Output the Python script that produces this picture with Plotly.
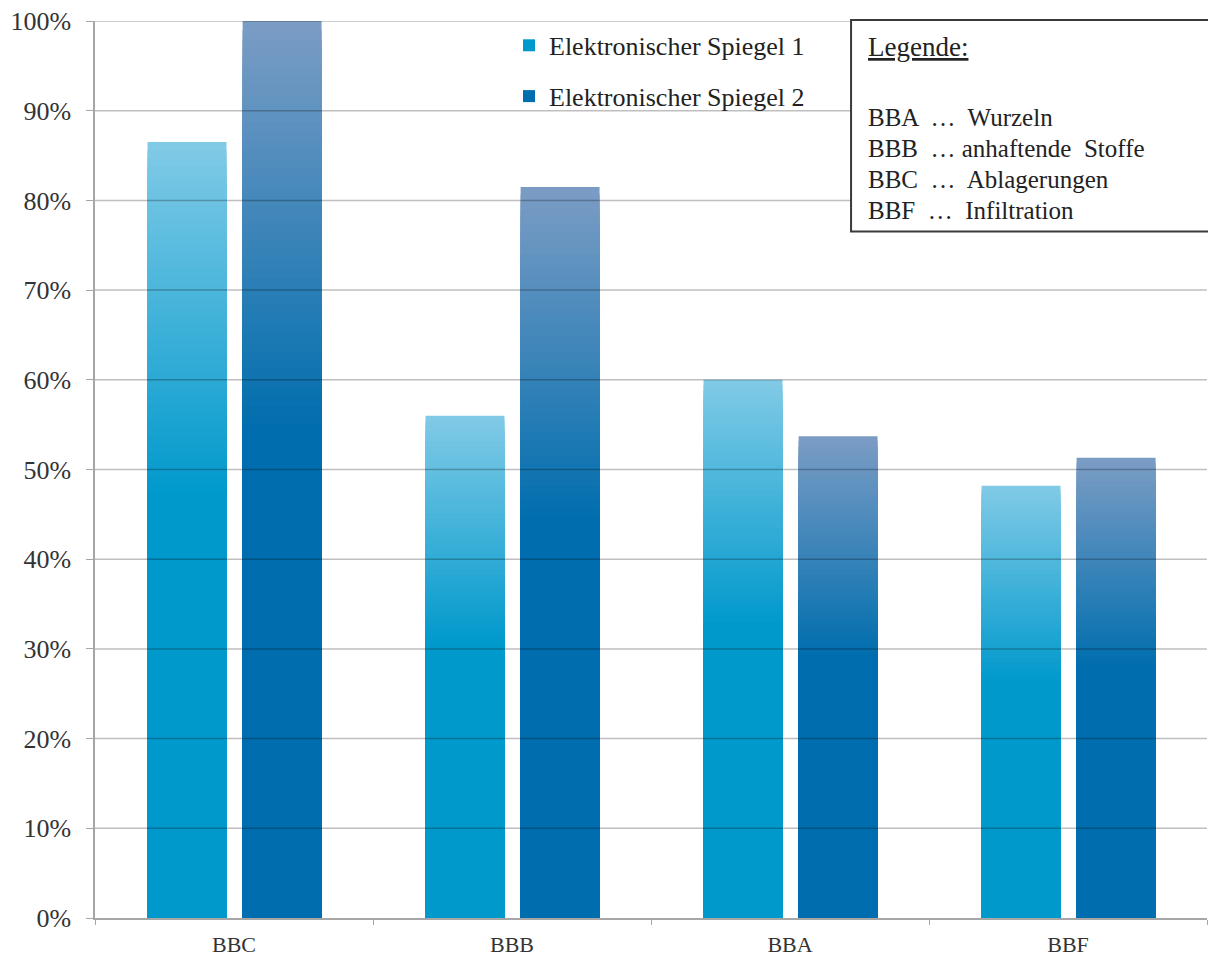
import plotly.graph_objects as go

categories = ["BBC", "BBB", "BBA", "BBF"]
spiegel1 = [86.5, 56.0, 60.0, 48.2]
spiegel2 = [100.0, 81.5, 53.7, 51.3]
series_names = ["Elektronischer Spiegel 1", "Elektronischer Spiegel 2"]
y_ticks = [0, 10, 20, 30, 40, 50, 60, 70, 80, 90, 100]
y_tick_labels = ["0%", "10%", "20%", "30%", "40%", "50%", "60%", "70%", "80%", "90%", "100%"]
legend_lines = ["BBA  \u2026  Wurzeln", "BBB  \u2026 anhaftende  Stoffe",
                "BBC  \u2026  Ablagerungen", "BBF  \u2026  Infiltration"]

# gradient colours (top -> bottom)
top_cols = [(128, 202, 230), (122, 156, 196)]
bot_cols = [(0, 153, 204), (0, 110, 174)]
offsets = [-0.311, 0.031]
bar_w = 0.284
N = 45
fmin = 0.55

fig = go.Figure()
for s, vals in enumerate([spiegel1, spiegel2]):
    for k in range(N):
        t = k / (N - 1)
        f = 1 - t * (1 - fmin)
        c = tuple(round(top_cols[s][i] + (bot_cols[s][i] - top_cols[s][i]) * t) for i in range(3))
        last = (k == N - 1)
        fig.add_trace(go.Bar(
            x=categories,
            y=[v * f for v in vals] if not last else [v * fmin for v in vals],
            offset=offsets[s], width=bar_w,
            marker=dict(color="rgb(%d,%d,%d)" % c, line=dict(width=0)),
            name=series_names[s],
            showlegend=last,
            legendgroup="g%d" % s,
            hoverinfo="skip",
        ))

shapes = []
for v in y_ticks[1:]:
    shapes.append(dict(type="line", xref="paper", yref="y", x0=0, x1=1, y0=v, y1=v,
                       line=dict(color="rgba(0,0,0,0.25)", width=1.5), layer="above"))
# legend box
shapes.append(dict(type="rect", xref="paper", yref="paper",
                   x0=0.6799, x1=1.01, y0=0.7653, y1=1.0011,
                   line=dict(color="#3a3a3a", width=2), fillcolor="white", layer="above"))

annotations = [dict(text="<u>Legende:</u>", xref="paper", yref="paper", x=0.6934, y=0.971,
                    xanchor="left", yanchor="middle", showarrow=False,
                    font=dict(family="Liberation Serif", size=27, color="#222"))]
ys = [0.892, 0.8576, 0.823, 0.789]
for txt, yy in zip(legend_lines, ys):
    annotations.append(dict(text=txt, xref="paper", yref="paper", x=0.6934, y=yy,
                            xanchor="left", yanchor="middle", showarrow=False,
                            font=dict(family="Liberation Serif", size=25, color="#222")))

fig.update_layout(
    width=1208, height=958,
    margin=dict(l=95, r=1, t=21, b=38),
    paper_bgcolor="white", plot_bgcolor="white",
    barmode="overlay",
    shapes=shapes, annotations=annotations,
    legend=dict(x=0.3723, y=0.999, xanchor="left", yanchor="top",
                bgcolor="rgba(0,0,0,0)", tracegroupgap=14, itemwidth=30,
                font=dict(family="Liberation Serif", size=26, color="#222")),
    xaxis=dict(showgrid=False, showline=True, linecolor="#a6a6a6", linewidth=1.5,
               ticks="outside", tickson="boundaries", ticklen=5, tickcolor="#a6a6a6",
               tickfont=dict(family="Liberation Serif", size=22, color="#333"),
               ticklabelstandoff=6),
    yaxis=dict(range=[0, 100], tickmode="array", tickvals=y_ticks, ticktext=y_tick_labels,
               showgrid=False,
               showline=True, linecolor="#a6a6a6", linewidth=1.5, zeroline=False,
               ticks="outside", ticklen=7, tickcolor="#a6a6a6",
               tickfont=dict(family="Liberation Serif", size=26, color="#333"),
               ticklabelstandoff=10),
)

fig.write_html("out.html", config={"displayModeBar": False},
               post_script="document.body.style.margin='0';")
